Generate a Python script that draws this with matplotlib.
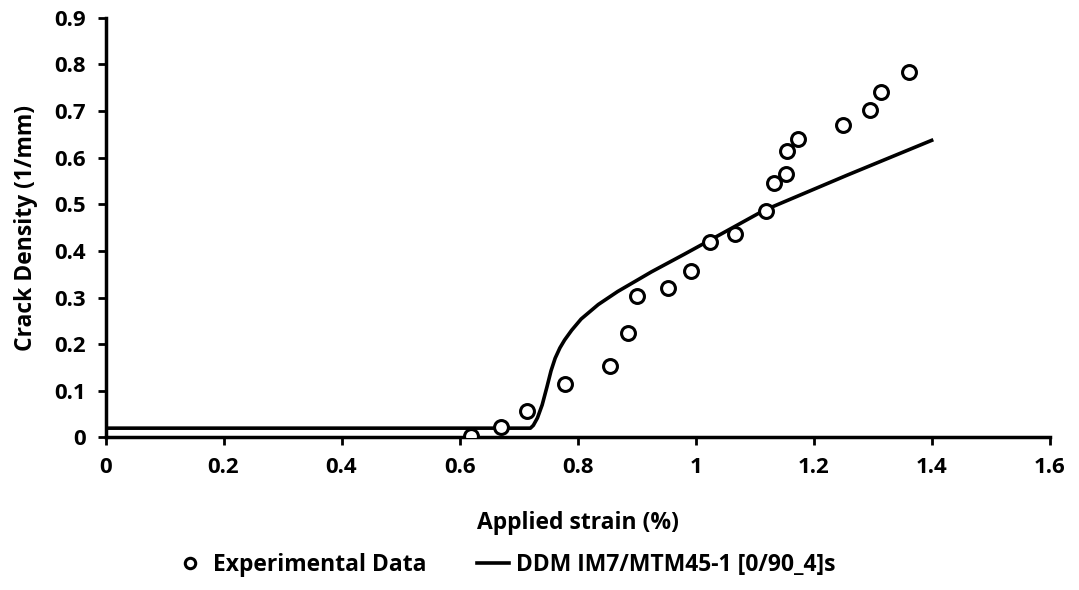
import matplotlib
matplotlib.use("Agg")
import matplotlib.pyplot as plt

plt.rcParams["font.family"] = ["Open Sans", "DejaVu Sans"]
plt.rcParams["font.weight"] = "bold"

# experimental crack density vs applied strain
exp_strain = [0.619, 0.670, 0.715, 0.778, 0.855, 0.885, 0.901, 0.954, 0.993,
              1.025, 1.066, 1.119, 1.133, 1.154, 1.155, 1.174, 1.250, 1.296,
              1.314, 1.361]
exp_density = [0.003, 0.022, 0.057, 0.114, 0.154, 0.225, 0.304, 0.321, 0.356,
               0.420, 0.437, 0.486, 0.546, 0.565, 0.615, 0.640, 0.671, 0.702,
               0.740, 0.783]

# DDM model curve
ddm_strain = [0.0, 0.72, 0.725, 0.732, 0.74, 0.748, 0.755, 0.762, 0.77, 0.778,
              0.79, 0.806, 0.835, 0.868, 0.902, 0.925, 0.981, 1.02, 1.116,
              1.257, 1.40]
ddm_density = [0.02, 0.02, 0.026, 0.042, 0.07, 0.108, 0.143, 0.17, 0.192, 0.209,
               0.23, 0.254, 0.285, 0.313, 0.338, 0.355, 0.393, 0.42, 0.487,
               0.5625, 0.637]

x_ticks = [0, 0.2, 0.4, 0.6, 0.8, 1.0, 1.2, 1.4, 1.6]
x_labels = ["0", "0.2", "0.4", "0.6", "0.8", "1", "1.2", "1.4", "1.6"]
y_ticks = [0, 0.1, 0.2, 0.3, 0.4, 0.5, 0.6, 0.7, 0.8, 0.9]
y_labels = ["0", "0.1", "0.2", "0.3", "0.4", "0.5", "0.6", "0.7", "0.8", "0.9"]

fig = plt.figure(figsize=(10.79, 5.9), dpi=100)
ax = fig.add_axes([0.0978, 0.2585, 0.875, 0.7115])

ax.plot(exp_strain, exp_density, linestyle="none", marker="o", markersize=10,
        markerfacecolor="white", markeredgecolor="black", markeredgewidth=2.2,
        label="Experimental Data", zorder=3)
ax.plot(ddm_strain, ddm_density, color="black", linewidth=2.6,
        label="DDM IM7/MTM45-1 [0/90_4]s", zorder=2)

ax.set_xlim(0, 1.6)
ax.set_ylim(0, 0.9)
ax.set_xticks(x_ticks)
ax.set_xticklabels(x_labels)
ax.set_yticks(y_ticks)
ax.set_yticklabels(y_labels)
ax.tick_params(direction="out", length=6, width=2, labelsize=16, pad=8)
for side in ["top", "right"]:
    ax.spines[side].set_visible(False)
for side in ["left", "bottom"]:
    ax.spines[side].set_linewidth(2.5)

ax.set_xlabel("Applied strain (%)", fontsize=16.5, fontweight="bold", labelpad=24)
ax.set_ylabel("Crack Density (1/mm)", fontsize=16.5, fontweight="bold", labelpad=12)

fig.legend(loc="center", bbox_to_anchor=(505 / 1079, 1 - 565 / 590), ncol=2,
           frameon=False, fontsize=16.5, handlelength=1.4, columnspacing=2.2,
           handletextpad=0.3, markerscale=0.75)

fig.savefig("out.png", dpi=100)
